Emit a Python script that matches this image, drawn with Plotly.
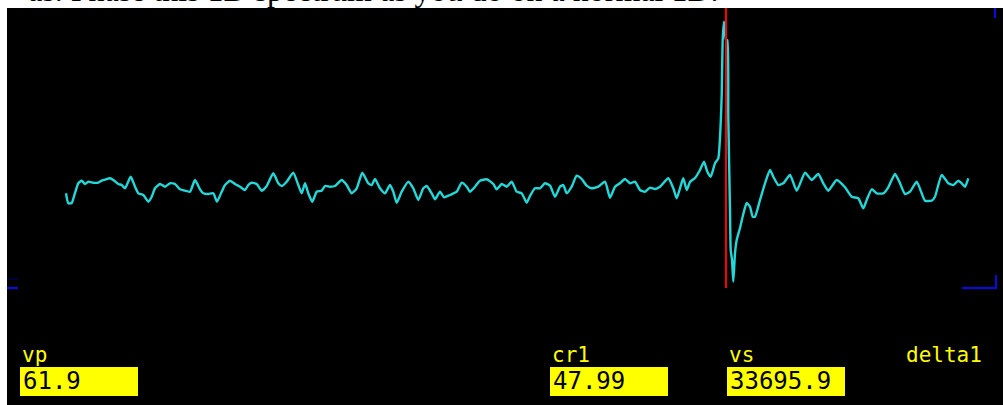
import plotly.graph_objects as go

# Spectrum trace (horizontal position in display points, intensity above cursor baseline)
x_pts = [66, 68.3, 71.7, 75, 78.3, 81.7, 85, 88.3, 93.3, 98.3,
         101.7, 110, 113.3, 118.3, 121.7, 125, 130.7, 135, 138.3, 143.3,
         148.3, 151.7, 155, 160, 165, 170, 175, 180, 185, 190,
         195, 200, 203.3, 208.3, 213.3, 217, 221.7, 225, 230, 235,
         240, 245, 248.3, 251.7, 256.7, 261.7, 266.7, 273.3, 278.3, 281.7,
         286.7, 293.3, 298.3, 301.7, 305, 308.3, 312.3, 316.7, 321.7, 325,
         330, 335, 341.7, 346.7, 351.7, 356.7, 362.3, 368.3, 371.7, 375,
         380, 385, 390, 393.3, 396.7, 401.7, 408.3, 413.3, 418.3, 423.3,
         426.7, 431.7, 435, 440, 444, 450, 456.7, 461.7, 466.7, 470,
         475, 480, 486.7, 493.3, 496.7, 501.7, 506.7, 511.7, 516.7, 521.7,
         526.7, 530, 535, 540, 545, 550, 555, 560, 563.3, 566.7,
         571.7, 576.7, 581.7, 586.7, 591.7, 598.3, 605, 610, 615, 620,
         625, 630, 635, 640, 645, 650, 655, 660, 668.3, 673.3,
         676.7, 680, 683.3, 686.7, 690, 695, 700, 704, 707.3, 710.7,
         715, 718.3, 720.7, 721.7, 722.7, 724, 726, 727.3, 728.3, 730,
         730.7, 732, 733.3, 735, 736.7, 740, 743.3, 746.7, 750, 752.7,
         755, 760, 765, 770, 773.3, 778.3, 783.3, 790, 796.7, 805,
         811.7, 818.3, 823.3, 828.3, 836.7, 845, 851.7, 858.3, 863.3, 866.7,
         871.7, 876.7, 883.3, 888.3, 895, 900, 905, 910, 916.7, 921.7,
         925, 931.7, 935, 941.7, 948.3, 953.3, 958.3, 961.7, 965, 968.3]

intensity = [94.7, 84.7, 85, 95, 104.7, 107.3, 104, 106.3, 105.3, 105.3,
             107.3, 109.7, 108, 104, 103, 99.7, 111.3, 101.3, 94.7, 93,
             86.3, 91.3, 99.7, 104, 101.3, 104.7, 104, 98.7, 97.3, 96.3,
             108, 98.7, 94.7, 94, 94.7, 86.3, 96.3, 103, 107.3, 104,
             101.3, 98, 103, 105.3, 104, 97.3, 102, 114.7, 104.7, 102,
             106.3, 115.3, 103, 94.7, 104.7, 94.7, 86.3, 96.3, 97.3, 102,
             101.3, 102, 108, 103, 94.7, 99.7, 115.3, 104.7, 103, 109,
             99.7, 94.7, 103, 96.3, 85.3, 96.3, 106.3, 99.7, 88, 99.7,
             102, 94.7, 88.7, 96.3, 90.7, 93, 96.3, 105.3, 101.3, 96.3,
             101.3, 107.3, 108.7, 104, 98.7, 104, 101.3, 106.3, 96.3, 94.7,
             85.3, 92, 99.7, 99.7, 104.7, 102.3, 91.3, 101.3, 103, 94.7,
             101.3, 112.3, 109, 102.3, 99.7, 101.3, 106.3, 90.3, 101.3, 104.7,
             109, 104.7, 106.3, 98, 96.3, 100.3, 99, 101.3, 109.7, 99.7,
             89.7, 99.7, 109.7, 98, 106, 110, 118, 126.3, 116.3, 111.3,
             124.7, 129.7, 164.7, 193, 248, 266.3, 248, 248, 171.3, 78,
             38, 28, 6.3, 34.7, 48, 60, 74, 85, 81.3, 71.3,
             71.3, 88, 104.7, 118, 111.3, 103, 104.7, 113, 97.3, 115.3,
             108, 114, 104.7, 97.3, 108, 100.7, 91.3, 89.7, 79.7, 88,
             98.7, 94.7, 94.7, 100.7, 114, 104.7, 94, 96.3, 106.3, 94.7,
             87.3, 87.3, 91.3, 113, 104.7, 103, 107.3, 104.7, 101.3, 109.7]

cursor_x = 726

field_labels = ["vp", "cr1", "vs", "delta1"]
field_values = ["61.9", "47.99", "33695.9", ""]
field_left = [20, 550, 727, 904]

caption = "as. Phase this 1D spectrum as you do on a normal 1D."

W, H = 1003, 405
ML, MT = 7, 8
BASE = 288  # pixel row of zero intensity


def py(p):
    """pixel row -> intensity coordinate"""
    return BASE - p


fig = go.Figure()
fig.add_trace(go.Scatter(x=x_pts, y=intensity, mode="lines",
                         line=dict(color="#22D8D8", width=2.4, shape="spline", smoothing=0.5),
                         hoverinfo="skip", showlegend=False))

shapes = []
# cursor
shapes.append(dict(type="line", xref="x", yref="y", x0=cursor_x, x1=cursor_x,
                   y0=py(288), y1=py(8), line=dict(color="#FF0000", width=2)))
# blue scale marks
shapes.append(dict(type="line", xref="x", yref="y", x0=7, x1=18, y0=py(288), y1=py(288),
                   line=dict(color="#0A0AE6", width=2)))
shapes.append(dict(type="line", xref="x", yref="y", x0=7, x1=18, y0=py(279), y1=py(279),
                   line=dict(color="#000070", width=1)))
shapes.append(dict(type="line", xref="x", yref="y", x0=962, x1=996, y0=py(288), y1=py(288),
                   line=dict(color="#0A0AE6", width=2)))
shapes.append(dict(type="line", xref="x", yref="y", x0=996, x1=996, y0=py(289), y1=py(275),
                   line=dict(color="#0A0AE6", width=2)))
shapes.append(dict(type="line", xref="x", yref="y", x0=995, x1=995, y0=py(8), y1=py(18),
                   line=dict(color="#0A0AE6", width=2)))

annotations = []
for lab, val, xl in zip(field_labels, field_values, field_left):
    annotations.append(dict(x=xl, y=py(355), xref="x", yref="y", text=lab,
                            showarrow=False, xanchor="left", yanchor="middle",
                            font=dict(family="DejaVu Sans Mono", size=21, color="#FFFF00")))
    if val:
        shapes.append(dict(type="rect", xref="x", yref="y", x0=xl, x1=xl + 118,
                           y0=py(396), y1=py(367), fillcolor="#FFFF00",
                           line=dict(width=0), layer="above"))
        annotations.append(dict(x=xl + 1, y=py(381), xref="x", yref="y", text=val,
                                showarrow=False, xanchor="left", yanchor="middle",
                                font=dict(family="DejaVu Sans Mono", size=24, color="#000000")))

annotations.append(dict(x=26, y=py(10), xref="x", yref="y", text=caption,
                        showarrow=False, xanchor="left", yanchor="bottom",
                        font=dict(family="Liberation Serif", size=32, color="#000000")))

fig.update_layout(
    width=W, height=H,
    margin=dict(l=ML, r=0, t=MT, b=0, pad=0),
    paper_bgcolor="#FFFFFF", plot_bgcolor="#000000",
    xaxis=dict(range=[ML, W], visible=False, fixedrange=True),
    yaxis=dict(range=[py(H), py(MT)], visible=False, fixedrange=True),
    shapes=shapes, annotations=annotations, showlegend=False,
)

fig.write_html("out.html", config={"displayModeBar": False},
               post_script="document.body.style.margin='0';document.body.style.overflow='hidden';")
